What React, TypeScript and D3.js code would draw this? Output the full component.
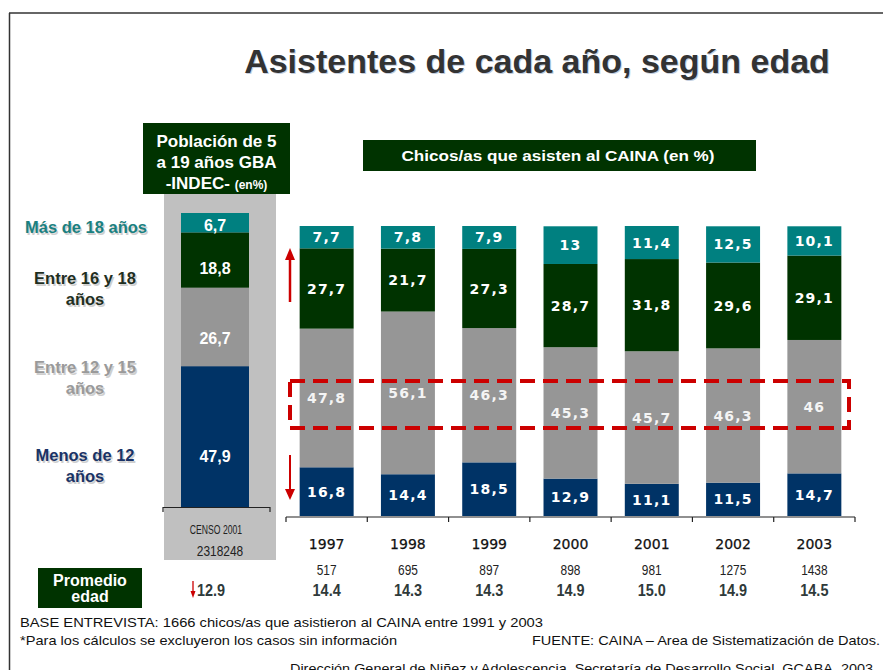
import * as d3 from 'd3'

const years = ['1997', '1998', '1999', '2000', '2001', '2002', '2003']
const mas18 = [7.7, 7.8, 7.9, 13, 11.4, 12.5, 10.1]
const entre16y18 = [27.7, 21.7, 27.3, 28.7, 31.8, 29.6, 29.1]
const entre12y15 = [47.8, 56.1, 46.3, 45.3, 45.7, 46.3, 46]
const menos12 = [16.8, 14.4, 18.5, 12.9, 11.1, 11.5, 14.7]
const casos = ['517', '695', '897', '898', '981', '1275', '1438']
const promedioEdad = ['14.4', '14.3', '14.3', '14.9', '15.0', '14.9', '14.5']

// censo 2001, bottom to top
const censoValores = [47.9, 26.7, 18.8, 6.7]
const censoTotal = '2318248'
const censoPromedio = '12.9'

const keys = ['menos12', 'entre12', 'entre16', 'mas18']
const colors: Record<string, string> = {
  menos12: '#003366',
  entre12: '#969696',
  entre16: '#003300',
  mas18: '#008080'
}

const fmt = (v: number) => String(v).replace('.', ',')
const arial = '"Liberation Sans", Arial, sans-serif'
const verdana = '"DejaVu Sans", Verdana, sans-serif'

// narrow-looking text: squeeze the glyphs horizontally
function Narrow(props: any) {
  const { x, y, sx = 0.85, anchor = 'middle', children, ...rest } = props
  return (
    <text transform={`translate(${x},${y}) scale(${sx},1)`} textAnchor={anchor} fontFamily={arial} {...rest}>
      {children}
    </text>
  )
}

export default function App() {
  const rows = years.map((y, i) => ({
    year: y,
    menos12: menos12[i],
    entre12: entre12y15[i],
    entre16: entre16y18[i],
    mas18: mas18[i]
  }))
  const series = d3.stack<any>().keys(keys)(rows)

  const x = d3.scaleBand().domain(years).range([286, 855]).paddingInner(0.336).paddingOuter(0.168)
  const y = d3.scaleLinear().domain([0, 100]).range([516, 226]).clamp(true)

  const censoRows = [{ menos12: censoValores[0], entre12: censoValores[1], entre16: censoValores[2], mas18: censoValores[3] }]
  const censoSeries = d3.stack<any>().keys(keys)(censoRows)
  const yL = d3.scaleLinear().domain([0, 100]).range([507, 213]).clamp(true)

  const step = x.step()
  const tickXs = d3.range(years.length + 1).map(i => 286 + i * step)

  const shadowText = (tx: number, ty: number, lines: string[], fill: string) => (
    <g fontFamily={arial} fontWeight="bold" fontSize={16.5} textAnchor="middle">
      {lines.map((l, i) => (
        <g key={i}>
          <text x={tx + 1.5} y={ty + i * 21 + 1.5} fill="#cfcfcf">{l}</text>
          <text x={tx} y={ty + i * 21} fill={fill}>{l}</text>
        </g>
      ))}
    </g>
  )

  return (
    <svg width={883} height={670} style={{ position: 'absolute', left: 0, top: 0 }}>
      <rect width={883} height={670} fill="#fff" />
      <line x1={9.5} y1={13} x2={9.5} y2={670} stroke="#333" strokeWidth={1.5} />
      <line x1={9} y1={13} x2={883} y2={13} stroke="#333" strokeWidth={1.5} />

      <text x={538} y={74} textAnchor="middle" fontFamily={arial} fontWeight="bold" fontSize={34} fill="#c4cfe0">
        Asistentes de cada año, según edad
      </text>
      <text x={537} y={73} textAnchor="middle" fontFamily={arial} fontWeight="bold" fontSize={34} fill="#333">
        Asistentes de cada año, según edad
      </text>

      {/* censo panel */}
      <rect x={164} y={194} width={112} height={366} fill="#c0c0c0" />
      <rect x={143} y={123} width={147} height={71} fill="#003300" />
      <g fontFamily={arial} fontWeight="bold" fill="#fff" textAnchor="middle" fontSize={17}>
        <text x={216.5} y={147}>Población de 5</text>
        <text x={216.5} y={168}>a 19 años GBA</text>
        <text x={216.5} y={189}>-INDEC- <tspan fontSize={12}>(en%)</tspan></text>
      </g>
      {censoSeries.map(s => {
        const d = s[0]
        const y0 = yL(d[1]), y1 = yL(d[0])
        const h = y1 - y0
        return (
          <g key={s.key}>
            <rect x={181} y={y0} width={68} height={h} fill={colors[s.key]} />
            <text x={215} y={(y0 + y1) / 2 + h * 0.14} dy="0.36em" textAnchor="middle"
              fontFamily={arial} fontWeight="bold" fontSize={16} fill="#fff">{fmt(+(d[1] - d[0]).toFixed(1))}</text>
          </g>
        )
      })}
      <path d="M163,512 V507.5 H270 V512" fill="none" stroke="#222" strokeWidth={1.2} />
      <Narrow x={216} y={534} sx={0.72} fontSize={12} fill="#222">CENSO 2001</Narrow>
      <Narrow x={220} y={556} sx={0.85} fontSize={14} fill="#222">{censoTotal}</Narrow>

      {/* category labels */}
      {shadowText(86, 233, ['Más de 18 años'], '#1a8080')}
      {shadowText(85, 284, ['Entre 16 y 18', 'años'], '#1f2f1f')}
      {shadowText(85, 373, ['Entre 12 y 15', 'años'], '#9a9a9a')}
      {shadowText(85, 461, ['Menos de 12', 'años'], '#1a3366')}

      {/* CAINA header */}
      <rect x={363} y={140} width={393} height={31} fill="#003300" />
      <text x={558} y={161} textAnchor="middle" fontFamily={arial} fontWeight="bold" fontSize={15.5} fill="#fff"
        textLength={313} lengthAdjust="spacingAndGlyphs">
        Chicos/as que asisten al CAINA (en %)
      </text>

      {/* stacked bars */}
      {series.map(s => (
        <g key={s.key}>
          {s.map((d, i) => {
            const y0 = y(d[1]), y1 = y(d[0])
            return (
              <g key={i}>
                <rect x={x(years[i])} y={y0} width={x.bandwidth()} height={y1 - y0} fill={colors[s.key]} />
                <text x={(x(years[i]) as number) + x.bandwidth() / 2} y={(y0 + y1) / 2} dy="0.36em" textAnchor="middle"
                  fontFamily={verdana} fontWeight="bold" fontSize={14} letterSpacing={1.2}
                  fill={s.key === 'entre12' ? '#f4f4f4' : '#fff'}>
                  {fmt(+(d[1] - d[0]).toFixed(1))}
                </text>
              </g>
            )
          })}
        </g>
      ))}

      {/* dashed highlight */}
      <rect x={290} y={381} width={559} height={47} fill="none" stroke="#cc0000" strokeWidth={4} strokeDasharray="15,8" />

      {/* arrows */}
      <line x1={290} y1={302} x2={290} y2={258} stroke="#cc0000" strokeWidth={2.5} />
      <path d="M285,260 L290,248 L295,260 Z" fill="#cc0000" />
      <line x1={290} y1={455} x2={290} y2={490} stroke="#cc0000" strokeWidth={2} />
      <path d="M285,489 L290,500 L295,489 Z" fill="#cc0000" />

      {/* axis */}
      <line x1={286} y1={517} x2={855} y2={517} stroke="#222" strokeWidth={1.2} />
      {tickXs.map((tx, i) => (
        <line key={i} x1={tx} y1={517} x2={tx} y2={522} stroke="#222" strokeWidth={1.2} />
      ))}
      {years.map((yr, i) => {
        const cx = (x(yr) as number) + x.bandwidth() / 2
        return (
          <g key={yr}>
            <text x={cx} y={549} textAnchor="middle" fontFamily={verdana} fontSize={14} fill="#111" stroke="#111" strokeWidth={0.25}>{yr}</text>
            <Narrow x={cx} y={575} sx={0.85} fontSize={14} fill="#222">{casos[i]}</Narrow>
            <Narrow x={cx} y={596} sx={0.85} fontWeight="bold" fontSize={17} fill="#2f3a3a">{promedioEdad[i]}</Narrow>
          </g>
        )
      })}

      {/* promedio edad */}
      <rect x={38} y={568} width={104} height={40} fill="#003300" />
      <text x={90} y={586} textAnchor="middle" fontFamily={arial} fontWeight="bold" fontSize={16} fill="#fff">Promedio</text>
      <text x={90} y={602} textAnchor="middle" fontFamily={arial} fontWeight="bold" fontSize={16} fill="#fff">edad</text>
      <line x1={193} y1={581} x2={193} y2={592} stroke="#cc0000" strokeWidth={1.3} />
      <path d="M190.5,591 L193,598 L195.5,591 Z" fill="#cc0000" />
      <Narrow x={197} y={596} sx={0.85} anchor="start" fontWeight="bold" fontSize={17} fill="#2f3a3a">{censoPromedio}</Narrow>

      {/* footer */}
      <g fontFamily={arial} fontSize={13.5} fill="#111">
        <text x={20} y={627} textLength={523} lengthAdjust="spacingAndGlyphs">BASE ENTREVISTA:  1666 chicos/as que asistieron al CAINA entre 1991 y 2003</text>
        <text x={20} y={645} textLength={377} lengthAdjust="spacingAndGlyphs">*Para los cálculos se excluyeron los casos sin información</text>
        <text x={880} y={645} textAnchor="end" textLength={348} lengthAdjust="spacingAndGlyphs">FUENTE: CAINA – Area de Sistematización de Datos.</text>
        <text x={290} y={673} textLength={583} lengthAdjust="spacingAndGlyphs">Dirección General de Niñez  y Adolescencia. Secretaría de Desarrollo Social. GCABA. 2003</text>
      </g>
    </svg>
  )
}
